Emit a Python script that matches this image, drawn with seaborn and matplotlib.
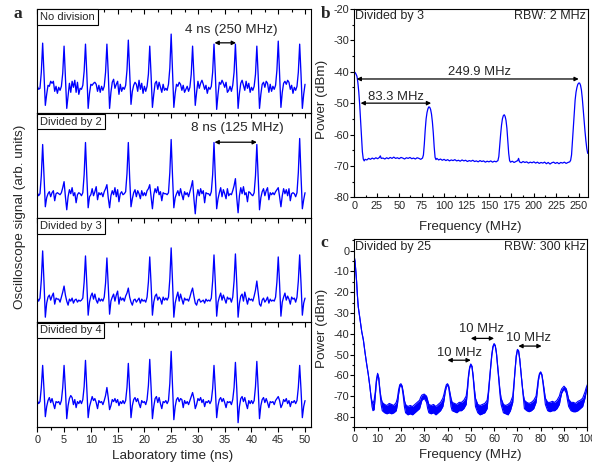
import numpy as np
import matplotlib
matplotlib.use("Agg")
import matplotlib.pyplot as plt
import seaborn as sns
from matplotlib.ticker import MultipleLocator

sns.set_style("ticks")
plt.rcParams["font.family"] = ["Liberation Sans", "DejaVu Sans"]
plt.rcParams["axes.unicode_minus"] = False
plt.rcParams["axes.edgecolor"] = "black"
plt.rcParams["axes.linewidth"] = 0.8

# ---------------- data: panel a (oscilloscope traces, 0.25 ns sampling) -------------
time_ns = np.arange(0, 50.25, 0.25)

no_division = [
    0, -3, -2, 14, 43, 12, -19, -8, 1, 0, 5, 3, 5, -5, 0, -7,
    -1, -4, 0, 13, 40, 10, -22, -9, 3, -6, 5, -1, 6, -6, 4, -8,
    -2, -3, 1, 15, 42, 12, -22, -7, 2, 1, 3, 4, 2, -5, 1, -6,
    0, -4, 0, 14, 42, 13, -22, -6, 4, 7, -2, 2, 5, -8, 2, -5,
    -1, -3, 1, 16, 46, 14, -18, -5, 1, 4, 2, -5, 6, -3, 3, -7,
    0, -5, 0, 12, 40, 11, -21, -8, 3, 5, -3, 4, -1, -6, 2, -4,
    -2, -4, 2, 18, 52, 15, -21, -7, 2, 0, 4, 2, -4, 1, -6, -3,
    0, -5, -1, 12, 40, 11, -19, -6, 5, -2, 3, 6, 2, -3, 1, -7,
    -1, -3, 0, 14, 42, 12, -23, -8, 4, 2, 6, 3, -1, 4, -6, -4,
    0, -5, 1, 14, 42, 12, -22, -7, 3, 6, 1, -4, 5, -2, 3, -6,
    -1, -4, 0, 12, 40, 11, -22, -8, 2, 4, -1, 5, 3, -6, 2, -5,
    0, -3, 1, 16, 45, 13, -21, -6, 3, 5, 2, 6, 4, -3, 1, -7,
    -1, -4, 0, 14, 42, 12, -22, -8, 2,
]

divided_by_2 = [
    -2, -5, -3, 15, 46, 14, -16, -7, -3, -1, -6, -2, 0, -10, -3, -2,
    -3, -4, -2, 3, 9, -6, -19, -6, 1, -3, 3, -5, -2, -12, -4, -2,
    -3, -5, -2, 16, 48, 14, -17, -6, -4, 2, -5, -1, 4, -9, -2, -4,
    -2, -6, -1, 2, 6, -7, -17, -5, 0, -4, 3, -6, 1, -11, -3, -1,
    -4, -3, -1, 17, 48, 13, -16, -8, -2, 1, -6, 0, -3, -8, 0, -5,
    -2, -5, 0, 2, 6, -6, -18, -4, 2, -2, 4, -4, -1, -10, -2, -3,
    -3, -4, -2, 18, 51, 15, -17, -7, -3, 0, -5, 2, -4, -9, -1, -4,
    -2, -6, -1, 4, 10, -8, -23, -6, 1, -5, 2, -3, 0, -12, -2, -3,
    -3, -5, -1, 16, 48, 13, -18, -8, -2, 3, -6, 1, -3, -8, 2, -5,
    -3, -4, 0, 5, 12, -7, -22, -5, 3, -3, 4, -4, -2, -11, -1, -2,
    -4, -5, -2, 15, 46, 14, -19, -7, -1, 2, -5, 0, 3, -9, -2, -4,
    -2, -4, -1, 1, 3, -6, -16, -5, 2, -3, 1, -5, 2, -10, -3, -2,
    -3, -6, -2, 18, 52, 15, -18, -9, -2,
]

divided_by_3 = [
    -3, -6, -3, 15, 44, 13, -22, -8, -2, 0, -5, -1, 2, -9, -3, -4,
    -4, -7, -2, 3, 9, 0, -6, -10, -4, -6, -3, -8, -5, -4, -7, -5,
    -6, -5, -3, 13, 39, 11, -20, -7, -1, 2, -4, 1, -5, -8, -3, -6,
    -4, -6, -2, 12, 37, 10, -19, -6, -2, 1, -6, 0, 4, -9, -2, -5,
    -3, -6, -1, 2, 7, -2, -7, -10, -5, -4, -7, -5, -3, -8, -4, -6,
    -5, -7, -2, 13, 38, 11, -20, -7, -1, 1, -5, -2, -4, -9, -2, -5,
    -3, -5, -2, 16, 47, 14, -22, -8, -2, 3, -6, 1, -4, -9, -3, -5,
    -4, -6, -2, 3, 7, -1, -8, -10, -5, -4, -7, -6, -5, -8, -4, -6,
    -5, -6, -3, 14, 40, 12, -21, -7, -2, 2, -5, 0, -4, -8, -2, -4,
    -3, -7, -2, 14, 41, 12, -22, -8, -1, 1, -6, 3, -3, -9, -3, -5,
    -4, -6, -1, 5, 14, 2, -9, -11, -5, -3, -7, -5, -2, -8, -4, -6,
    -5, -6, -2, 13, 38, 11, -21, -7, -2, 2, -5, -1, -4, -9, -2, -4,
    -3, -7, -2, 14, 40, 12, -20, -8, -3,
]

divided_by_4 = [
    -1, -4, -2, 12, 34, 10, -17, -7, -1, 2, -3, 1, -4, -9, -2, -3,
    -2, -5, -1, 12, 34, 10, -19, -6, 1, 4, 2, -5, 0, -8, -2, -4,
    -1, -4, 0, 13, 39, 11, -18, -7, -2, 3, -1, 1, -3, -9, -1, -3,
    -2, -5, -1, 4, 12, 2, -10, -6, 0, -2, 1, -3, 0, -6, -2, -4,
    -1, -4, -1, 12, 36, 10, -18, -6, 0, 2, -2, 1, -4, -8, -1, -3,
    -2, -5, 0, 14, 40, 12, -19, -7, 1, 3, -3, 2, -4, -9, -2, -3,
    -1, -4, -1, 16, 48, 14, -20, -7, 0, 2, -2, 1, 0, -8, -1, -4,
    -2, -5, -1, 3, 7, 1, -9, -5, 1, -1, 2, -3, 0, -7, -2, -3,
    -1, -4, -1, 11, 34, 10, -18, -6, 0, 2, -2, 1, -3, -8, -2, -3,
    -2, -5, 0, 12, 37, 11, -23, -7, 1, 3, -2, 2, -4, -9, -1, -4,
    -1, -4, -1, 13, 38, 11, -19, -6, 0, 2, -3, 1, -3, -8, -2, -3,
    -2, -5, -1, 1, 3, -1, -8, -5, 0, -2, 1, -4, -1, -7, -2, -3,
    -1, -4, -1, 12, 34, 10, -18, -7, -1,
]

panel_a_labels = ["No division", "Divided by 2", "Divided by 3", "Divided by 4"]
time_ticks = [0, 5, 10, 15, 20, 25, 30, 35, 40, 45, 50]

# ---------------- data: panel b (RF spectrum, divided by 3) ----------------
b_freq = [0, 1, 2, 3, 4, 5, 6, 7, 8, 9, 10, 11, 12, 14, 16, 18, 20, 22, 24, 26,
          28, 29, 30, 32, 34, 36, 38, 40, 42, 44, 46, 48, 50, 52, 54, 56, 58, 60,
          62, 64, 66, 68, 70, 72, 74, 76, 77, 78, 79, 80, 81, 82, 83, 84, 85, 86,
          87, 88, 89, 90, 91, 92, 94, 96, 98, 100, 102, 104, 106, 108, 110, 112,
          114, 116, 118, 120, 122, 124, 126, 128, 130, 132, 134, 136, 138, 140,
          142, 144, 146, 148, 150, 152, 154, 156, 158, 160, 161, 162, 163, 164,
          165, 166, 167, 168, 169, 170, 171, 172, 173, 174, 176, 178, 180, 182,
          183, 184, 186, 188, 190, 192, 194, 196, 198, 200, 202, 204, 206, 208,
          210, 212, 214, 216, 218, 220, 222, 224, 226, 228, 230, 232, 234, 236,
          238, 240, 241, 242, 243, 244, 245, 246, 247, 248, 249, 250, 251, 252,
          253, 254, 255, 256, 257, 258, 259, 260]
b_power = [-40.0, -40.3, -40.8, -41.5, -43.5, -46.5, -50.5, -55.5, -61.0, -65.5,
           -67.8, -68.4, -67.9, -68.1, -67.6, -67.9, -67.5, -67.8, -67.4, -67.7,
           -67.3, -66.8, -67.6, -67.5, -67.8, -67.4, -67.7, -67.3, -67.6, -67.2,
           -67.6, -67.4, -67.7, -67.3, -67.5, -67.8, -67.4, -67.6, -67.3, -67.7,
           -67.5, -67.8, -67.4, -67.6, -67.9, -67.5, -66.5, -63.0, -58.5, -55.0,
           -53.0, -51.8, -51.2, -51.3, -52.0, -53.5, -56.0, -59.5, -64.0, -67.3,
           -68.0, -67.6, -68.1, -67.8, -68.2, -67.9, -68.3, -68.0, -68.4, -68.1,
           -68.3, -68.0, -68.4, -68.2, -68.5, -68.1, -68.4, -68.2, -68.6, -68.3,
           -68.5, -68.2, -68.6, -68.4, -68.7, -68.3, -68.6, -68.4, -68.8, -68.5,
           -68.7, -68.4, -68.8, -68.5, -68.7, -68.3, -67.0, -63.5, -60.0, -57.0,
           -55.0, -54.0, -53.7, -54.2, -55.5, -58.0, -62.0, -66.0, -68.3, -68.8,
           -68.5, -68.9, -68.6, -68.3, -67.6, -68.7, -69.0, -68.6, -68.9, -68.7,
           -69.1, -68.8, -69.0, -68.7, -69.1, -68.8, -69.2, -68.9, -69.1, -68.8,
           -69.3, -68.9, -69.4, -69.0, -68.8, -69.2, -68.9, -69.3, -68.9, -69.1,
           -68.8, -69.2, -68.9, -68.7, -68.2, -66.5, -62.0, -57.0, -52.5, -49.0,
           -46.5, -45.0, -44.0, -43.6, -43.6, -44.3, -45.8, -48.5, -52.0, -55.5,
           -59.0, -62.0, -64.5, -66.0]

# ---------------- data: panel c (RF spectrum, divided by 25), trace envelope ----------
c_freq = [0.0, 0.3, 0.6, 1.0, 1.3, 1.7, 2.2, 2.7, 3.2, 3.9, 4.6, 5.3, 6.0, 6.7, 7.2,
          7.6, 8.0, 8.5, 9.0, 9.5, 10.0, 10.5, 11.0, 11.5, 12.0, 13.0, 14.0, 15.0,
          16.0, 17.0, 18.0, 18.5, 19.0, 19.5, 20.0, 20.5, 21.0, 21.5, 22.0, 23.0,
          24.0, 25.0, 26.0, 27.0, 28.0, 28.5, 29.0, 30.0, 31.0, 31.5, 32.0, 33.0,
          34.0, 35.0, 36.0, 37.0, 38.0, 38.5, 39.0, 39.5, 40.0, 40.5, 41.0, 41.5,
          42.0, 43.0, 44.0, 45.0, 46.0, 47.0, 48.0, 48.5, 49.0, 49.5, 50.0, 50.5,
          51.0, 51.5, 52.0, 53.0, 54.0, 55.0, 56.0, 57.0, 57.5, 58.0, 58.5, 59.0,
          59.5, 60.0, 60.5, 61.0, 61.5, 62.0, 62.5, 63.0, 64.0, 65.0, 66.0, 67.0,
          68.0, 68.5, 69.0, 69.5, 70.0, 70.5, 71.0, 71.5, 72.0, 72.5, 73.0, 74.0,
          75.0, 76.0, 77.0, 78.0, 78.5, 79.0, 79.5, 80.0, 80.5, 81.0, 81.5, 82.0,
          83.0, 84.0, 85.0, 86.0, 87.0, 88.0, 88.5, 89.0, 90.0, 91.0, 91.5, 92.0,
          93.0, 94.0, 95.0, 96.0, 97.0, 98.0, 99.0, 99.5, 100.0]
c_upper = [-3, -5, -9, -15, -21, -27, -31, -35, -39, -43, -49, -54.5, -59.5, -65.5,
           -70.5, -72.5, -73.5, -72, -68, -62, -59, -61, -67, -71, -73, -74, -74.5,
           -73.5, -74, -74.5, -73, -71, -67, -64.5, -64, -65, -68, -72, -74, -75,
           -74.5, -75, -74, -73, -72, -70.5, -69.5, -69, -70, -72, -74, -74.5, -74,
           -75, -74, -73, -71, -69, -66.5, -64.5, -64, -65, -68, -71, -73, -73.5,
           -74, -73, -73, -72, -70, -66, -60, -56, -54.5, -55.5, -60, -66, -71, -74,
           -74.5, -74, -73.5, -72, -68, -62, -56, -50, -46, -44.7, -45.5, -49, -55,
           -61, -67, -71, -74, -74.5, -74, -73, -70, -64, -57, -50.5, -47.5, -48,
           -52, -58, -64, -69, -72, -73, -73.5, -73, -72, -70, -66, -61.5, -59,
           -58.3, -59.5, -63, -67, -71, -73, -73, -72.5, -73, -72, -70, -68, -66.5,
           -65.2, -66.5, -69, -71.5, -73, -73, -73.5, -72.5, -72, -71, -68, -66,
           -64.5]
c_lower = [-3, -5, -9, -15, -21, -27, -31, -35, -39, -43, -49, -54.5, -59.5, -65.5,
           -71, -75, -77, -76.5, -70, -63, -59.5, -62, -68, -74, -77, -78, -78.5,
           -78, -78.5, -78, -77, -74, -69, -65.5, -64.5, -66, -70, -75, -78, -79,
           -78.5, -79, -78, -77, -76, -74, -72, -71, -73, -76, -78, -78.5, -78,
           -79, -78, -77, -75, -72, -68, -65.5, -64.5, -66, -70, -75, -77, -77.5,
           -78, -77, -77, -76, -74, -68, -61, -56.5, -55, -56, -61, -68, -75, -78,
           -79, -78.5, -78, -76, -70, -63, -56.5, -50.5, -46.5, -45, -46, -49.5,
           -55.5, -62, -69, -74, -78, -78.5, -79, -77, -73, -65, -57.5, -51, -48,
           -48.5, -52.5, -58.5, -65, -71, -76, -77, -77.5, -77, -76, -73, -68,
           -62.5, -59.5, -58.8, -60, -64, -69, -74, -77, -77.5, -77, -77, -76, -74,
           -71, -68.5, -66.5, -68.5, -72, -75, -77, -77.5, -77.5, -77, -76, -75,
           -71, -68, -65.5]

# ---------------- figure ----------------
W, H = 592, 466
fig = plt.figure(figsize=(W / 100, H / 100), dpi=100)
fig.patch.set_facecolor("white")


def axes_px(x0, y0, x1, y1):
    return fig.add_axes([x0 / W, 1 - y1 / H, (x1 - x0) / W, (y1 - y0) / H])


BLUE = "#0000ff"
TICK_FS = 7.8
LAB_FS = 9.7
ANN_FS = 9.4

# panel a
bounds = [9.0, 113.4, 217.8, 322.2, 426.7]
traces = [no_division, divided_by_2, divided_by_3, divided_by_4]
axes_a = []
for i in range(4):
    ax = axes_px(37.3, bounds[i], 310.7, bounds[i + 1])
    ax.set_facecolor("none")
    sns.lineplot(x=time_ns, y=traces[i], ax=ax, color=BLUE, lw=0.95)
    ax.set_xlim(0, 51.06)
    ax.set_ylim(-27, 77)
    ax.set_xlabel("")
    ax.set_ylabel("")
    ax.set_yticks([])
    ax.xaxis.set_major_locator(MultipleLocator(5))
    ax.xaxis.set_minor_locator(MultipleLocator(2.5))
    ax.tick_params(axis="x", which="both", direction="in", top=True, bottom=False,
                   labelbottom=False, labeltop=False, width=0.8, color="black")
    ax.tick_params(axis="x", which="major", length=3.6)
    ax.tick_params(axis="x", which="minor", length=1.8)
    ax.annotate(panel_a_labels[i], xy=(0, 1), xycoords="axes fraction",
                xytext=(2.0, -2.3), textcoords="offset points", ha="left", va="top",
                fontsize=8,
                bbox=dict(boxstyle="square,pad=0.25", fc="white", ec="black", lw=0.8))
    axes_a.append(ax)

sec = axes_a[3].secondary_xaxis("bottom")
sec.set_xticks(time_ticks)
sec.xaxis.set_minor_locator(MultipleLocator(2.5))
sec.tick_params(axis="x", which="both", direction="out", width=0.8, labelsize=TICK_FS,
                pad=2.2, color="black")
sec.tick_params(axis="x", which="major", length=3.6)
sec.tick_params(axis="x", which="minor", length=1.8)

arrow_kw = dict(arrowstyle="<|-|>", color="black", lw=0.9, mutation_scale=6,
                shrinkA=0, shrinkB=0)
axes_a[0].annotate("", xy=(37.1, 43.3), xytext=(33.1, 43.3), arrowprops=arrow_kw)
axes_a[0].text(36.2, 56, "4 ns (250 MHz)", ha="center", va="center", fontsize=LAB_FS)
axes_a[1].annotate("", xy=(41.0, 48.3), xytext=(33.1, 48.3), arrowprops=arrow_kw)
axes_a[1].text(37.4, 62.7, "8 ns (125 MHz)", ha="center", va="center", fontsize=LAB_FS)

fig.text(20 / W, 1 - 216.5 / H, "Oscilloscope signal (arb. units)", rotation=90,
         ha="center", va="center", fontsize=LAB_FS)
fig.text(172.8 / W, 1 - 456 / H, "Laboratory time (ns)", ha="center", va="center",
         fontsize=LAB_FS)

# panel b
axb = axes_px(354.3, 9.0, 587.7, 197.3)
sns.lineplot(x=b_freq, y=b_power, ax=axb, color=BLUE, lw=0.9)
axb.set_xlim(0, 260)
axb.set_ylim(-80, -20)
axb.set_xlabel("")
axb.set_ylabel("")
axb.xaxis.set_major_locator(MultipleLocator(25))
axb.xaxis.set_minor_locator(MultipleLocator(12.5))
axb.yaxis.set_major_locator(MultipleLocator(10))
axb.yaxis.set_minor_locator(MultipleLocator(5))
axb.tick_params(axis="x", which="both", direction="in", labelsize=TICK_FS, pad=2.5,
                width=0.8, color="black")
axb.tick_params(axis="y", which="both", direction="out", labelsize=TICK_FS, pad=0.6,
                width=0.8, color="black")
axb.tick_params(which="major", length=3.0)
axb.tick_params(which="minor", length=1.6)
axb.annotate("", xy=(250, -42.3), xytext=(2.6, -42.3), arrowprops=arrow_kw)
axb.text(140, -40, "249.9 MHz", ha="center", va="center", fontsize=ANN_FS)
axb.annotate("", xy=(85.6, -50), xytext=(7.0, -50), arrowprops=arrow_kw)
axb.text(46.5, -48.1, "83.3 MHz", ha="center", va="center", fontsize=ANN_FS)
axb.annotate("Divided by 3", xy=(0, 1), xycoords="axes fraction", xytext=(0.8, -1.0),
             textcoords="offset points", ha="left", va="top", fontsize=9.0)
axb.annotate("RBW: 2 MHz", xy=(1, 1), xycoords="axes fraction", xytext=(-1.0, -1.0),
             textcoords="offset points", ha="right", va="top", fontsize=9.0)
fig.text(321.7 / W, 1 - 99 / H, "Power (dBm)", rotation=90, ha="center", va="center",
         fontsize=LAB_FS)
fig.text(470 / W, 1 - 226.7 / H, "Frequency (MHz)", ha="center", va="center",
         fontsize=9.5)

# panel c
axc = axes_px(354.3, 239.3, 587.3, 427.3)
axc.fill_between(c_freq, c_lower, c_upper, color=BLUE, lw=0)
sns.lineplot(x=c_freq, y=c_upper, ax=axc, color=BLUE, lw=0.8)
sns.lineplot(x=c_freq, y=c_lower, ax=axc, color=BLUE, lw=0.8)
axc.set_xlim(0, 100)
axc.set_ylim(-85, 5.5)
axc.set_xlabel("")
axc.set_ylabel("")
axc.xaxis.set_major_locator(MultipleLocator(10))
axc.xaxis.set_minor_locator(MultipleLocator(5))
axc.yaxis.set_major_locator(MultipleLocator(10))
axc.yaxis.set_minor_locator(MultipleLocator(5))
axc.tick_params(axis="x", which="both", direction="out", labelsize=TICK_FS, pad=1.5,
                width=0.8, color="black")
axc.tick_params(axis="y", which="both", direction="out", labelsize=TICK_FS, pad=0.6,
                width=0.8, color="black")
axc.tick_params(which="major", length=3.0)
axc.tick_params(which="minor", length=1.6)
axc.annotate("", xy=(50, -52.7), xytext=(40, -52.7), arrowprops=arrow_kw)
axc.text(45.2, -49.0, "10 MHz", ha="center", va="center", fontsize=ANN_FS)
axc.annotate("", xy=(60, -42.2), xytext=(50, -42.2), arrowprops=arrow_kw)
axc.text(54.5, -37.9, "10 MHz", ha="center", va="center", fontsize=ANN_FS)
axc.annotate("", xy=(80.4, -45.9), xytext=(70.4, -45.9), arrowprops=arrow_kw)
axc.text(74.8, -41.9, "10 MHz", ha="center", va="center", fontsize=ANN_FS)
axc.annotate("Divided by 25", xy=(0, 1), xycoords="axes fraction", xytext=(0.8, -1.0),
             textcoords="offset points", ha="left", va="top", fontsize=9.0)
axc.annotate("RBW: 300 kHz", xy=(1, 1), xycoords="axes fraction", xytext=(-1.0, -1.0),
             textcoords="offset points", ha="right", va="top", fontsize=9.0)
fig.text(321.7 / W, 1 - 328 / H, "Power (dBm)", rotation=90, ha="center", va="center",
         fontsize=LAB_FS)
fig.text(470.3 / W, 1 - 455 / H, "Frequency (MHz)", ha="center", va="center",
         fontsize=9.5)

# panel letters
for letter, (x, y) in {"a": (17.8, 18.3), "b": (326, 18.3), "c": (324.5, 247.3)}.items():
    fig.text(x / W, 1 - y / H, letter, ha="center", va="baseline", fontsize=12.5,
             fontweight="bold", family=["Liberation Serif", "DejaVu Serif"])

fig.savefig("out.png", dpi=100)
